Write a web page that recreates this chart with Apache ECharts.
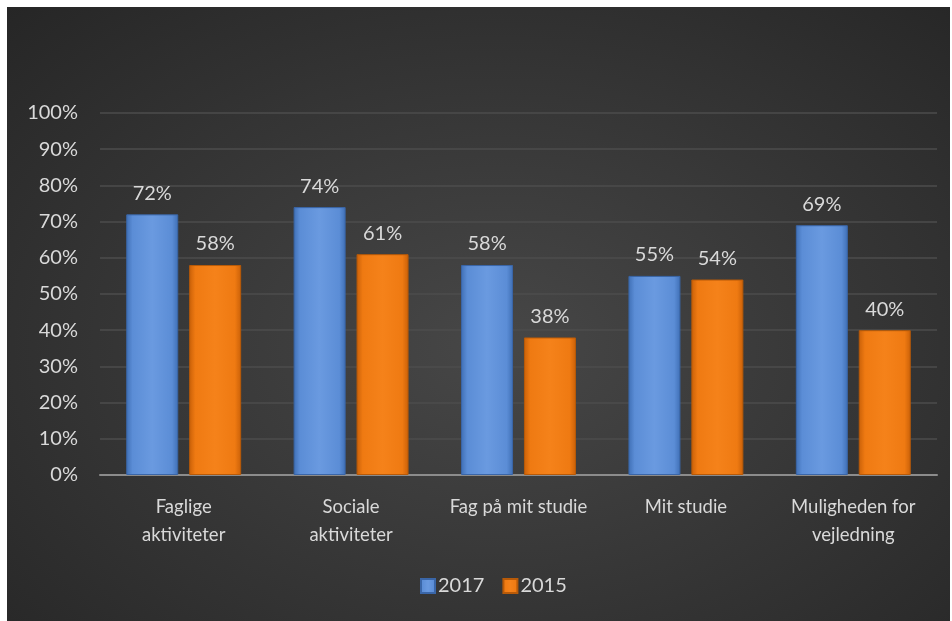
<!DOCTYPE html>
<html>
<head>
<meta charset="utf-8">
<script src="https://cdn.jsdelivr.net/npm/echarts@6/dist/echarts.min.js"></script>
<style>
html,body{margin:0;padding:0;background:#fff;width:952px;height:621px;overflow:hidden;}
#c{position:absolute;left:7px;top:7px;width:943px;height:614px;
background:radial-gradient(ellipse at 52% 55%, #474747 0%, #3a3a3a 40%, #262626 100%);}
</style>
</head>
<body>
<div id="c"></div>
<script>
var categories = ['Faglige\naktiviteter', 'Sociale\naktiviteter', 'Fag på mit studie', 'Mit studie', 'Muligheden for\nvejledning'];
var series2017 = [72, 74, 58, 55, 69];
var series2015 = [58, 61, 38, 54, 40];
var yTicks = [0, 10, 20, 30, 40, 50, 60, 70, 80, 90, 100];

var FONT = 'Lato, "Noto Sans", sans-serif';
var chart = echarts.init(document.getElementById('c'));

function grad(light, mid, dark) {
  return new echarts.graphic.LinearGradient(0, 0, 1, 0, [
    {offset: 0, color: dark},
    {offset: 0.12, color: mid},
    {offset: 0.5, color: light},
    {offset: 0.88, color: mid},
    {offset: 1, color: dark}
  ]);
}

var labelStyle = {
  show: true, position: 'top', distance: 11,
  color: '#d9d9d9', fontSize: 20, fontFamily: FONT,
  formatter: function (p) { return p.value + '%'; }
};

chart.setOption({
  backgroundColor: 'transparent',
  animation: false,
  grid: {left: 93, right: 13, top: 106, bottom: 146},
  legend: {
    bottom: 20, left: 408,
    data: ['2017', '2015'],
    itemWidth: 14, itemHeight: 14, itemGap: 18,
    textStyle: {color: '#d9d9d9', fontSize: 20, fontFamily: FONT, padding: [0, 0, 0, -2]},
    icon: 'rect'
  },
  xAxis: {
    type: 'category',
    data: categories,
    axisLine: {lineStyle: {color: '#8c8c8c', width: 2}},
    axisTick: {show: false},
    axisLabel: {color: '#d9d9d9', fontSize: 18.5, fontFamily: FONT, lineHeight: 28, margin: 18, interval: 0}
  },
  yAxis: {
    type: 'value', min: 0, max: 100, interval: 10,
    axisLine: {show: false}, axisTick: {show: false},
    splitLine: {lineStyle: {color: '#4d4d4d', width: 1.5}},
    axisLabel: {
      color: '#d9d9d9', fontSize: 20, fontFamily: FONT, margin: 22,
      formatter: function (v) { return yTicks.indexOf(v) >= 0 ? v + '%' : ''; }
    }
  },
  series: [
    {
      name: '2017', type: 'bar', data: series2017,
      barWidth: 52, barGap: '21%',
      itemStyle: {color: grad('#6a9ae0', '#5b8dd6', '#3f6fb5'), borderColor: '#3a66a8', borderWidth: 1},
      label: labelStyle
    },
    {
      name: '2015', type: 'bar', data: series2015,
      barWidth: 52,
      itemStyle: {color: grad('#f5821a', '#ef7a12', '#c96008'), borderColor: '#b85a08', borderWidth: 1},
      label: labelStyle
    }
  ]
});
</script>
</body>
</html>
